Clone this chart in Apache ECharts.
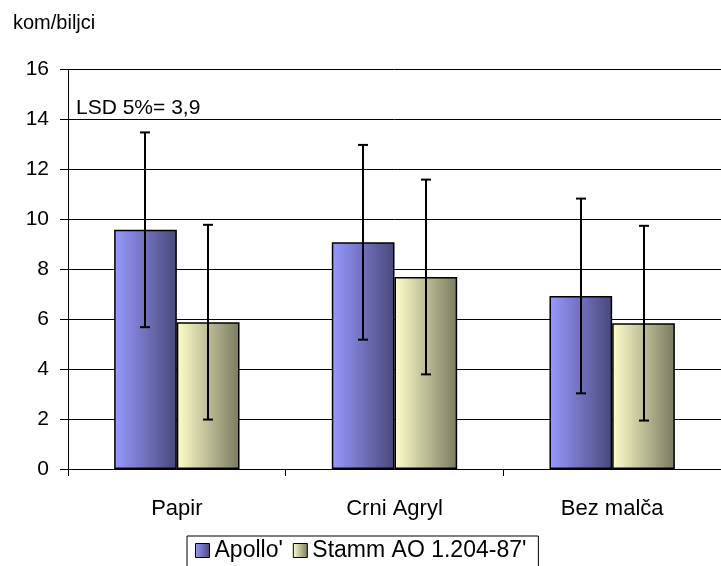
<!DOCTYPE html>
<html>
<head>
<meta charset="utf-8">
<script src="https://cdn.jsdelivr.net/npm/echarts@6/dist/echarts.min.js"></script>
<style>
html,body{margin:0;padding:0;background:#fff;}
#chart{width:721px;height:566px;}
</style>
</head>
<body>
<div id="chart"></div>
<script>
var categories = ['Papir', 'Crni Agryl', 'Bez mal\u010da'];
var apolloValues = [9.58, 9.08, 6.93];
var stammValues = [5.88, 7.69, 5.84];
var lsdError = 3.9;
var yTicks = [0, 2, 4, 6, 8, 10, 12, 14, 16];
var seriesNames = ["Apollo'", "Stamm AO 1.204-87'"];

var FONT = 'Liberation Sans, Arial, sans-serif';
var BAR_FRAC = 0.288;

var chart = echarts.init(document.getElementById('chart'), null, {renderer: 'canvas'});

function grad(c1, c2) {
  return new echarts.graphic.LinearGradient(0, 0, 1, 0, [
    {offset: 0, color: c1}, {offset: 1, color: c2}
  ]);
}

function errorSeries(values, side) {
  var data = values.map(function (v, i) { return [i, v - lsdError, v + lsdError]; });
  return {
    type: 'custom',
    name: 'err' + side,
    silent: true,
    z: 10,
    data: data,
    renderItem: function (params, api) {
      var idx = api.value(0);
      var lo = api.coord([idx, api.value(1)]);
      var hi = api.coord([idx, api.value(2)]);
      var band = api.size([1, 0])[0];
      var x = Math.round(lo[0] + side * band * BAR_FRAC / 2);
      var cap = 5;
      var st = {stroke: '#000', lineWidth: 2};
      return {
        type: 'group',
        children: [
          {type: 'line', shape: {x1: x, y1: hi[1], x2: x, y2: lo[1]}, style: st},
          {type: 'line', shape: {x1: x - cap, y1: hi[1], x2: x + cap, y2: hi[1]}, style: st},
          {type: 'line', shape: {x1: x - cap, y1: lo[1], x2: x + cap, y2: lo[1]}, style: st}
        ]
      };
    }
  };
}

var apolloColor = grad('#9999FF', '#48487A');
var stammColor = grad('#FFFFCC', '#7A7A60');

var option = {
  animation: false,
  backgroundColor: '#fff',
  grid: {left: 68, right: -4, top: 69.5, bottom: 97, containLabel: false},
  legend: {
    data: [
      {name: seriesNames[0], itemStyle: {color: apolloColor, borderColor: '#000', borderWidth: 1}},
      {name: seriesNames[1], itemStyle: {color: stammColor, borderColor: '#000', borderWidth: 1}}
    ],
    left: 187,
    top: 536,
    icon: 'rect',
    itemWidth: 14,
    itemHeight: 14,
    itemGap: 10,
    padding: [3, 12, 8, 8],
    borderColor: '#000',
    borderWidth: 1,
    textStyle: {fontFamily: FONT, fontSize: 23, color: '#000'}
  },
  xAxis: {
    type: 'category',
    data: categories,
    axisLine: {lineStyle: {color: '#000', width: 1}},
    axisTick: {show: true, alignWithLabel: false, length: 7, lineStyle: {color: '#000'}},
    axisLabel: {fontFamily: FONT, fontSize: 22, color: '#000', margin: 29},
    splitLine: {show: false}
  },
  yAxis: {
    type: 'value',
    min: 0,
    max: 16,
    interval: 2,
    axisLine: {show: true, lineStyle: {color: '#000', width: 1}},
    axisTick: {show: true, length: 8, inside: false, lineStyle: {color: '#000'}},
    axisLabel: {fontFamily: FONT, fontSize: 21, color: '#000', margin: 19,
      formatter: function (v) { return yTicks.indexOf(v) >= 0 ? String(v) : ''; }},
    splitLine: {show: true, lineStyle: {color: '#000', width: 1}}
  },
  graphic: [
    {type: 'text', left: 13, top: 13, style: {text: 'kom/biljci', font: '20px ' + FONT, fill: '#000'}},
    {type: 'text', left: 76, top: 98, style: {text: 'LSD 5%= 3,9', font: '21px ' + FONT, fill: '#000'}}
  ],
  series: [
    {
      name: seriesNames[0],
      type: 'bar',
      data: apolloValues,
      barWidth: (BAR_FRAC * 100) + '%',
      barGap: '0%',
      itemStyle: {color: apolloColor, borderColor: '#000', borderWidth: 1.5}
    },
    {
      name: seriesNames[1],
      type: 'bar',
      data: stammValues,
      barWidth: (BAR_FRAC * 100) + '%',
      barGap: '0%',
      itemStyle: {color: stammColor, borderColor: '#000', borderWidth: 1.5}
    },
    errorSeries(apolloValues, -1),
    errorSeries(stammValues, 1)
  ]
};
chart.setOption(option);
</script>
</body>
</html>
